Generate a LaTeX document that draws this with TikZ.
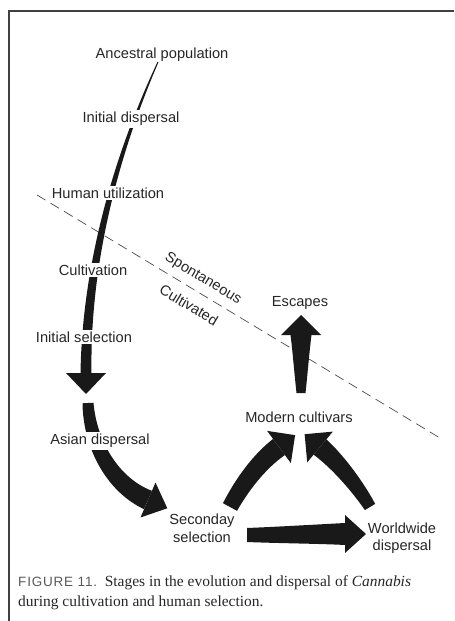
\documentclass[tikz,border=0pt]{standalone}
\usepackage{fontspec}
\setmainfont{Liberation Serif}
\newfontfamily\labelfont{Liberation Sans}
\usetikzlibrary{calc}

% tapered body along a curve: start, control, control, end, width at start, width at end (px)
\newcommand{\taper}[6]{%
  \foreach \i in {0,...,40}{
    \pgfmathsetmacro{\tc}{\i/40}
    \pgfmathsetmacro{\ta}{max(0,\tc-0.01)}
    \pgfmathsetmacro{\tb}{min(1,\tc+0.01)}
    \pgfmathsetmacro{\w}{(#5+(#6-#5)*\tc)/2}
    \path (#1) .. controls (#2) and (#3) .. (#4) coordinate[pos=\tc] (tp) coordinate[pos=\ta] (ta) coordinate[pos=\tb] (tb);
    \coordinate (td) at ($(tp)+(tb)-(ta)$);
    \coordinate (L\i) at ($(tp)!{\w*0.3mm}!90:(td)$);
    \coordinate (R\i) at ($(tp)!{\w*0.3mm}!-90:(td)$);
  }
  \fill[body] (L0) \foreach \i in {1,...,40}{ -- (L\i)} \foreach \i in {40,...,0}{ -- (R\i)} -- cycle;
}
% triangular head: end of body, point it comes from, half width, length (px)
\newcommand{\head}[4]{%
  \fill[body] ($(#1)!{#4*0.3mm}!180:(#2)$) -- ($(#1)!{#3*0.3mm}!90:(#2)$) -- ($(#1)!{#3*0.3mm}!-90:(#2)$) -- cycle;
}

\begin{document}
\begin{tikzpicture}[x=0.3mm,y=-0.3mm,
  stage/.style={font=\labelfont\fontsize{12.5}{15}\selectfont,text=black!85,align=center,inner sep=1.5pt},
  onbody/.style={stage,fill=white},
  body/.style={fill=black!90},
  border/.style={ultra thick,black!75}]
\useasboundingbox (0,0) rectangle (454,621);

\draw[border] (9,621) -- (9,11) -- (454,11);

% spontaneous / cultivated divide
\coordinate (g0) at (37,195);
\coordinate (g1) at (440,438);
\draw[black!70,line width=0.6pt,dash pattern=on 8.5pt off 5pt] (g0) -- (g1);

% ancestral line down to the first head
\coordinate (a0) at (158,62);
\coordinate (a1) at (113,162);
\coordinate (a2) at (86,270);
\coordinate (a3) at (86,373);
\taper{a0}{a1}{a2}{a3}{1}{11}
\head{a3}{a2}{20}{21}

% asian dispersal
\coordinate (b0) at (88,403);
\coordinate (b1) at (90,445);
\coordinate (b2) at (113,485);
\coordinate (b3) at (148,500);
\taper{b0}{b1}{b2}{b3}{11}{20}
\head{b3}{b2}{19}{21}

% seconday selection to modern cultivars
\coordinate (c0) at (230,507);
\coordinate (c1) at (243,483);
\coordinate (c2) at (260,461);
\coordinate (c3) at (279,447);
\taper{c0}{c1}{c2}{c3}{16}{20}
\head{c3}{c2}{20}{20}

% worldwide dispersal to modern cultivars
\coordinate (d0) at (370,507);
\coordinate (d1) at (358,487);
\coordinate (d2) at (338,462);
\coordinate (d3) at (320,447);
\taper{d0}{d1}{d2}{d3}{12}{20}
\head{d3}{d2}{20}{20}

% escapes
\coordinate (e0) at (301,393);
\coordinate (e1) at (301,375);
\coordinate (e2) at (301,350);
\coordinate (e3) at (301,335);
\taper{e0}{e1}{e2}{e3}{9}{21}
\head{e3}{e2}{20}{20}

% seconday selection to worldwide dispersal
\coordinate (f0) at (247,535);
\coordinate (f1) at (280,535);
\coordinate (f2) at (320,534);
\coordinate (f3) at (345,534);
\taper{f0}{f1}{f2}{f3}{14}{22}
\head{f3}{f2}{19}{21}

\node[stage] (anc) at (162,55) {Ancestral population};
\node[onbody] (idisp) at (131,119) {Initial dispersal};
\node[onbody] (human) at (108,193) {Human utilization};
\node[onbody] (cult) at (93,270) {Cultivation};
\node[onbody] (isel) at (84,337) {Initial selection};
\node[onbody] (asian) at (100,441) {Asian dispersal};
\node[stage] (second) at (202,528) {Seconday\\selection};
\node[stage] (world) at (402,538) {Worldwide\\dispersal};
\node[stage] (modern) at (299,417) {Modern cultivars};
\node[stage] (escapes) at (300,303) {Escapes};
\node[stage,rotate=-31] (spont) at (203,279) {Spontaneous};
\node[stage,rotate=-31] (cultd) at (189,305) {Cultivated};

\node[anchor=north west,align=left,inner sep=0pt,text=black!85,font=\fontsize{13.2}{17.5}\selectfont] (caption) at (18,575)
  {{\labelfont\fontsize{11.5}{17.5}\selectfont\addfontfeature{LetterSpace=6}\color{black!65}FIGURE 11.}\hspace{0.5em}Stages in the evolution and dispersal of \textit{Cannabis}\\
   during cultivation and human selection.};
\end{tikzpicture}
\end{document}
